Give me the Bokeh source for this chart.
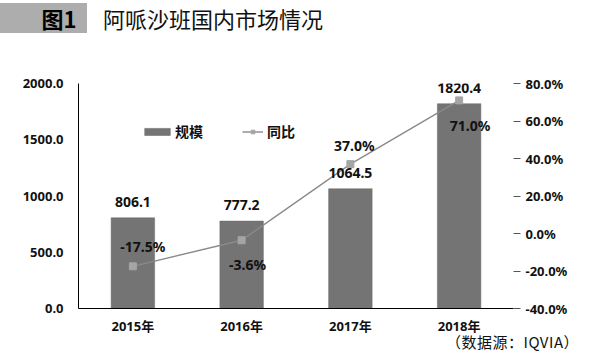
from bokeh.plotting import figure
from bokeh.layouts import column
from bokeh.models import (ColumnDataSource, Range1d, LinearAxis, FixedTicker, PrintfTickFormatter,
                          LabelSet, Legend, LegendItem, Div)
from bokeh.core.properties import value
from bokeh.embed import file_html
from bokeh.resources import INLINE

# ---- data ----
years = ["2015年", "2016年", "2017年", "2018年"]
scale = [806.1, 777.2, 1064.5, 1820.4]
yoy = [-17.5, -3.6, 37.0, 71.0]
left_ticks = [0, 500, 1000, 1500, 2000]
right_ticks = [-40, -20, 0, 20, 40, 60, 80]
title_tag = "图1"
title_text = "阿哌沙班国内市场情况"
source_text = "（数据源：IQVIA）"

# ---- layout / style ----
W = 600
FONT = "Noto Sans, Noto Sans CJK SC"
CJK = "Noto Sans CJK SC"
pct_dx = [10, 6, 4, 11]
pct_dy = [20, -24, 19, -25]

# ---- title row ----
top_html = (
    '<div style="position:relative;width:%dpx;height:38px;font-family:\'%s\';">'
    '<div style="position:absolute;left:0;top:3px;width:87px;height:30px;background:#adadad;"></div>'
    '<div style="position:absolute;left:30px;top:5px;width:58px;line-height:26px;text-align:center;'
    'font-size:22px;font-weight:bold;color:#000;">%s</div>'
    '<div style="position:absolute;left:103px;top:5px;line-height:26px;white-space:nowrap;'
    'font-size:22px;color:#111;">%s</div>'
    '</div>' % (W, CJK, title_tag, title_text)
)
top = Div(text=top_html, width=W, height=38, margin=0)

# ---- main chart ----
src = ColumnDataSource(dict(
    year=years, scale=scale, yoy=yoy,
    scale_txt=["%.1f" % v for v in scale],
    yoy_txt=["%.1f%%" % v for v in yoy],
    dx=pct_dx, dy=pct_dy,
))

p = figure(width=W, height=299, x_range=years, y_range=Range1d(0, 2000),
           output_backend="svg", toolbar_location=None,
           min_border_left=78, min_border_right=87, min_border_top=45, min_border_bottom=29)
p.extra_y_ranges = {"pct": Range1d(-40, 80)}
p.outline_line_color = None
p.xgrid.visible = False
p.ygrid.visible = False

bars = p.vbar(x="year", top="scale", width=0.40, source=src,
              fill_color="#747474", line_color="#6a6a6a", line_width=0.5)
line = p.line(x="year", y="yoy", source=src, y_range_name="pct",
              line_color="#8a8a8a", line_width=1.4)
pts = p.scatter(x="year", y="yoy", source=src, y_range_name="pct", marker="square",
                size=7, fill_color="#a5a5a5", line_color="#a5a5a5")

# left axis
ya = p.yaxis[0]
ya.ticker = FixedTicker(ticks=left_ticks)
ya.formatter = PrintfTickFormatter(format="%.1f")
ya.axis_line_color = "black"
ya.major_tick_line_color = None
ya.minor_tick_line_color = None
ya.major_tick_out = 0
ya.major_label_standoff = 15
ya.major_label_text_font = FONT
ya.major_label_text_font_style = "bold"
ya.major_label_text_font_size = "13px"
ya.major_label_text_color = "#111111"

# x axis
xa = p.xaxis[0]
xa.axis_line_color = "black"
xa.major_tick_line_color = None
xa.minor_tick_line_color = None
xa.major_tick_out = 0
xa.major_label_standoff = 8
xa.major_label_text_font = FONT
xa.major_label_text_font_style = "bold"
xa.major_label_text_font_size = "13px"
xa.major_label_text_color = "#111111"

# right axis
ra = LinearAxis(y_range_name="pct", ticker=FixedTicker(ticks=right_ticks),
                formatter=PrintfTickFormatter(format="%.1f%%"))
ra.axis_line_color = None
ra.major_tick_in = 0
ra.major_tick_out = 7
ra.major_tick_line_color = "#555555"
ra.minor_tick_line_color = None
ra.major_label_standoff = 5
ra.major_label_text_font = FONT
ra.major_label_text_font_style = "bold"
ra.major_label_text_font_size = "13px"
ra.major_label_text_color = "#111111"
p.add_layout(ra, "right")

# value labels
p.add_layout(LabelSet(x="year", y="scale", text="scale_txt", source=src, y_offset=16,
                      text_align="center", text_baseline="middle",
                      text_font=value(FONT), text_font_style="bold",
                      text_font_size="14px", text_color="#111111"))
p.add_layout(LabelSet(x="year", y="yoy", text="yoy_txt", source=src, y_range_name="pct",
                      x_offset="dx", y_offset="dy",
                      text_align="center", text_baseline="middle",
                      text_font=value(FONT), text_font_style="bold",
                      text_font_size="14px", text_color="#111111"))

# legends
leg_common = dict(orientation="horizontal", padding=0, margin=0, border_line_color=None,
                  background_fill_alpha=0, label_text_font=CJK, label_text_font_size="14px",
                  label_text_font_style="bold", label_text_color="#111111",
                  glyph_height=9, label_height=9)
leg1 = Legend(items=[LegendItem(label="规模", renderers=[bars])], location=(63, 167),
              glyph_width=32, label_standoff=2, **leg_common)
leg2 = Legend(items=[LegendItem(label="同比", renderers=[line, pts])], location=(164, 167),
              glyph_width=21, label_standoff=4, **leg_common)
p.add_layout(leg1)
p.add_layout(leg2)

# ---- source row ----
bot_html = (
    '<div style="position:relative;width:%dpx;height:24px;font-family:\'%s\';">'
    '<div style="position:absolute;left:446px;top:-4px;line-height:18px;white-space:nowrap;'
    'font-size:15px;letter-spacing:0.5px;color:#111;">%s</div>'
    '</div>' % (W, CJK, source_text)
)
bot = Div(text=bot_html, width=W, height=24, margin=0)

layout = column(top, p, bot, spacing=0)
open("out.html", "w").write(file_html(layout, INLINE))
